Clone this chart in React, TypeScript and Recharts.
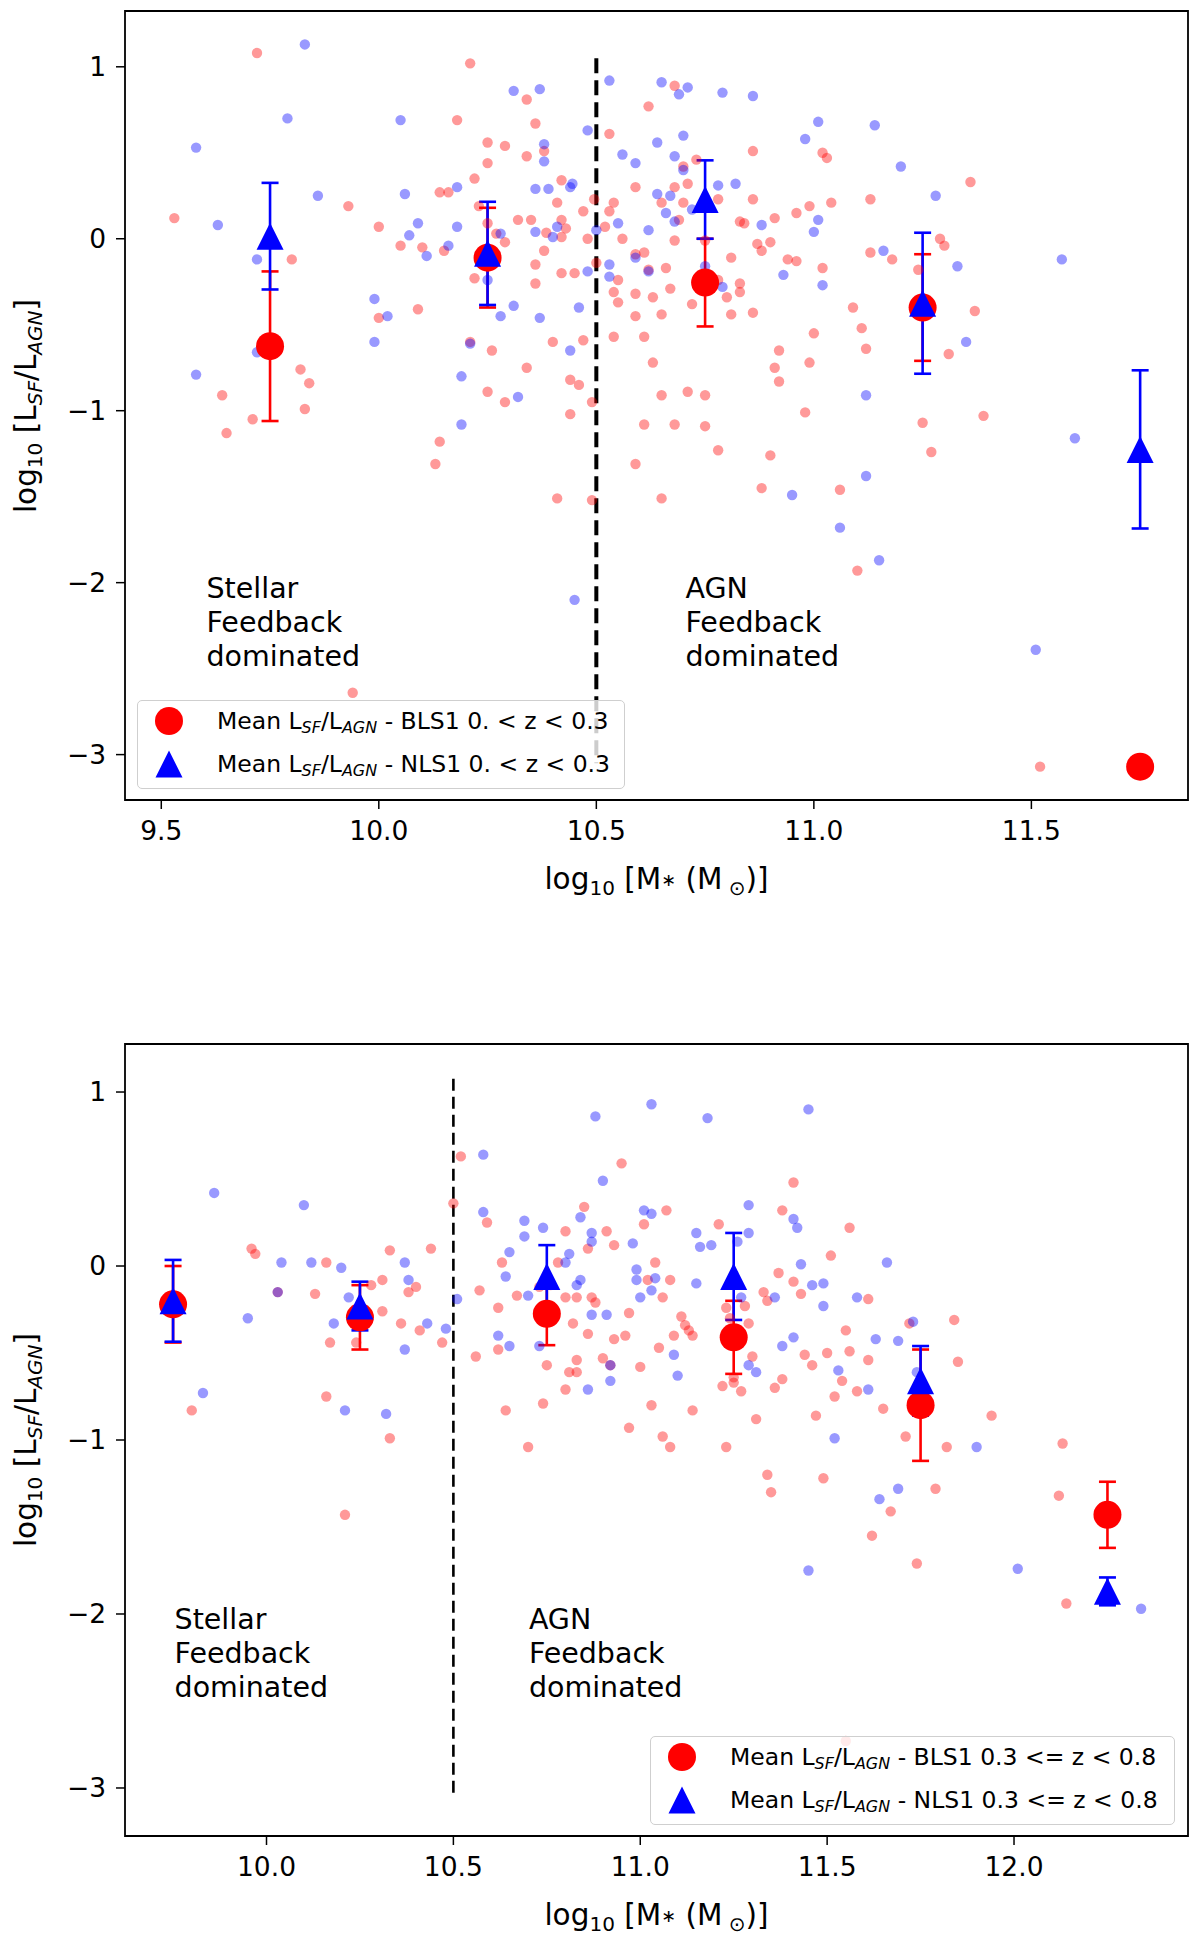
import React from 'react';
import {
  ComposedChart,
  Scatter,
  XAxis,
  YAxis,
  ErrorBar,
  ReferenceLine,
  ReferenceArea,
  ReferenceDot,
} from 'recharts';

const FONT = '"DejaVu Sans", "Liberation Sans", sans-serif';

// ---------------- Top panel (0 < z < 0.3) ----------------
const topXTicks = [9.5, 10.0, 10.5, 11.0, 11.5];
const topYTicks = [-3, -2, -1, 0, 1];
const topMassBins = [9.75, 10.25, 10.75, 11.25, 11.75];
const topBLS1Mean = [-0.625, -0.11, -0.255, -0.4, -3.07];
const topBLS1Err = [0.435, 0.29, 0.255, 0.31, 0];
const topNLS1Mean = [0.015, -0.085, 0.228, -0.375, -1.225];
const topNLS1Err = [0.31, 0.3, 0.228, 0.41, 0.46];

const topBLS1Points: [number, number][] = [
  [9.53, 0.12], [9.72, 1.08], [9.64, -0.91], [9.65, -1.13], [9.71, -1.05], [9.8, -0.12], [9.82, -0.76],
  [9.84, -0.84], [9.83, -0.99], [9.93, 0.19], [9.94, -2.64], [10.0, 0.07], [10.0, -0.46], [10.05, -0.04],
  [10.09, -0.41], [10.1, -0.05], [10.13, -1.31], [10.14, -1.18], [10.14, 0.27], [10.16, 0.27], [10.15, -0.07],
  [10.18, 0.69], [10.21, -0.6], [10.21, 1.02], [10.22, 0.35], [10.23, 0.19], [10.25, 0.44], [10.25, 0.56],
  [10.22, -0.23], [10.26, -0.65], [10.25, -0.89], [10.29, 0.54], [10.29, -0.95], [10.32, 0.11], [10.34, 0.81],
  [10.34, -0.75], [10.34, 0.48], [10.35, 0.11], [10.36, 0.67], [10.36, -0.15], [10.36, -0.26], [10.38, 0.51],
  [10.38, -0.07], [10.4, -0.6], [10.41, 0.21], [10.42, 0.34], [10.42, 0.11], [10.43, 0.06], [10.42, -0.2],
  [10.41, -1.51], [10.44, -0.82], [10.44, -1.02], [10.46, -0.85], [10.45, -0.2], [10.47, -0.59], [10.47, 0.16],
  [10.49, -0.95], [10.495, 0.23], [10.49, -1.52], [10.5, -0.14], [10.53, 0.61], [10.53, 0.16], [10.54, 0.21],
  [10.54, -0.31], [10.55, -0.37], [10.54, -0.57], [10.56, 0.0], [10.59, 0.3], [10.59, -0.45], [10.59, -0.32],
  [10.59, -0.09], [10.59, -1.31], [10.61, -0.08], [10.61, -0.57], [10.61, -1.08], [10.62, 0.77], [10.63, -0.72],
  [10.63, -0.34], [10.65, 0.21], [10.65, -0.44], [10.65, -0.91], [10.65, -1.51], [10.66, -0.17], [10.67, -0.29],
  [10.68, -0.01], [10.68, 0.3], [10.68, 0.89], [10.68, -1.08], [10.69, 0.11], [10.7, 0.42], [10.7, 0.21],
  [10.71, 0.32], [10.71, -0.89], [10.72, -0.38], [10.73, 0.46], [10.74, -0.24], [10.75, -0.01], [10.75, -0.91],
  [10.75, -1.09], [10.78, -1.23], [10.78, 0.23], [10.78, -0.24], [10.8, -0.34], [10.81, -0.11], [10.81, -0.44],
  [10.83, 0.1], [10.84, 0.09], [10.83, -0.26], [10.83, -0.31], [10.86, 0.51], [10.86, 0.23], [10.86, -0.43],
  [10.87, -0.03], [10.88, -1.45], [10.88, -0.07], [10.9, -0.02], [10.9, -1.26], [10.91, 0.12], [10.91, -0.75],
  [10.92, -0.65], [10.92, -0.83], [10.94, -0.12], [10.96, -0.13], [10.96, 0.15], [10.98, -1.01], [10.99, -0.72],
  [10.99, 0.19], [11.0, -0.55], [11.02, -0.17], [11.02, 0.5], [11.03, 0.47], [11.04, 0.21], [11.06, -1.46],
  [11.09, -0.4], [11.1, -1.93], [11.11, -0.52], [11.12, -0.64], [11.13, 0.23], [11.13, -0.08], [11.18, -0.12],
  [11.24, -0.18], [11.25, -1.07], [11.27, -1.24], [11.29, 0.0], [11.3, -0.04], [11.31, -0.67], [11.36, 0.33],
  [11.37, -0.42], [11.39, -1.03], [11.52, -3.07], [10.25, 0.09], [10.52, 0.07], [10.48, 0.0], [10.27, 0.03],
  [10.29, -0.02], [10.385, 0.035], [10.42, 0.01], [10.55, -0.24], [10.62, -0.18],
];

const topNLS1Points: [number, number][] = [
  [9.58, 0.53], [9.58, -0.79], [9.63, 0.08], [9.72, -0.12], [9.72, -0.66], [9.79, 0.7], [9.83, 1.13],
  [9.86, 0.25], [9.99, -0.35], [9.99, -0.6], [10.02, -0.45], [10.05, 0.69], [10.06, 0.26], [10.07, 0.02],
  [10.09, 0.09], [10.11, -0.1], [10.16, -0.04], [10.18, 0.3], [10.18, 0.07], [10.19, -0.8], [10.19, -1.08],
  [10.21, -0.61], [10.28, 0.03], [10.28, -0.45], [10.31, -0.39], [10.31, 0.86], [10.32, -0.92], [10.36, 0.29],
  [10.36, 0.04], [10.37, 0.87], [10.38, 0.55], [10.38, 0.45], [10.37, -0.46], [10.39, 0.29], [10.4, 0.01],
  [10.41, 0.07], [10.44, 0.3], [10.445, 0.32], [10.44, -0.65], [10.45, -2.1], [10.46, -0.4], [10.48, -0.19],
  [10.48, 0.63], [10.5, 0.05], [10.53, -0.15], [10.53, -0.22], [10.53, 0.92], [10.55, 0.09], [10.56, 0.49],
  [10.59, -0.11], [10.59, 0.44], [10.62, -0.19], [10.62, 0.05], [10.64, 0.56], [10.64, 0.26], [10.65, 0.91],
  [10.66, 0.15], [10.67, 0.25], [10.68, 0.48], [10.69, 0.84], [10.68, 0.1], [10.7, 0.6], [10.7, 0.4],
  [10.71, 0.88], [10.72, 0.17], [10.75, -0.16], [10.78, 0.31], [10.79, -0.28], [10.79, 0.85], [10.82, 0.32],
  [10.86, 0.83], [10.88, 0.08], [10.93, -0.21], [10.95, -1.49], [10.98, 0.58], [11.0, 0.04], [11.01, 0.68],
  [11.01, 0.11], [11.02, -0.27], [11.06, -1.68], [11.12, -0.91], [11.12, -1.38], [11.14, 0.66], [11.15, -1.87],
  [11.16, -0.07], [11.2, 0.42], [11.28, 0.25], [11.33, -0.16], [11.35, -0.6], [11.51, -2.39], [11.57, -0.12],
  [11.6, -1.16], [10.25, -0.24],
];

// ---------------- Bottom panel (0.3 <= z < 0.8) ----------------
const botXTicks = [10.0, 10.5, 11.0, 11.5, 12.0];
const botYTicks = [-3, -2, -1, 0, 1];
const botMassBins = [9.75, 10.25, 10.75, 11.25, 11.75, 12.25];
const botBLS1Mean = [-0.22, -0.295, -0.275, -0.41, -0.8, -1.43];
const botBLS1Err = [0.22, 0.185, 0.18, 0.21, 0.32, 0.19];
const botNLS1Mean = [-0.2, -0.23, -0.06, -0.06, -0.66, -1.87];
const botNLS1Err = [0.235, 0.14, 0.18, 0.25, 0.2, 0.08];

const botBLS1Points: [number, number][] = [
  [9.8, -0.83], [9.96, 0.1], [9.97, 0.07], [10.03, -0.15], [10.13, -0.16], [10.16, 0.02], [10.16, -0.75],
  [10.17, -0.44], [10.21, -1.43], [10.24, -0.44], [10.28, -0.11], [10.31, -0.08], [10.31, -0.26], [10.33, 0.09],
  [10.33, -0.99], [10.36, -0.33], [10.38, -0.15], [10.4, -0.12], [10.41, -0.37], [10.44, 0.1], [10.47, -0.44],
  [10.5, 0.36], [10.52, 0.63], [10.56, -0.52], [10.57, -0.14], [10.59, 0.25], [10.62, -0.48], [10.62, -0.24],
  [10.63, 0.02], [10.64, -0.83], [10.67, -0.17], [10.7, -1.04], [10.73, -0.12], [10.74, -0.79], [10.75, -0.57],
  [10.76, -0.11], [10.78, 0.02], [10.8, 0.2], [10.8, -0.71], [10.8, -0.18], [10.81, -0.61], [10.82, -0.33],
  [10.83, -0.18], [10.83, -0.54], [10.83, -0.61], [10.85, 0.34], [10.86, -0.39], [10.86, 0.1], [10.87, -0.18],
  [10.88, -0.21], [10.9, -0.53], [10.91, 0.2], [10.92, -0.57], [10.93, -0.42], [10.93, 0.12], [10.95, 0.59],
  [10.96, -0.4], [10.97, -0.93], [10.97, -0.27], [11.0, -0.58], [11.01, 0.24], [11.02, -0.08], [11.03, -0.8],
  [11.04, 0.02], [11.05, -0.47], [11.06, -0.18], [11.06, -0.98], [11.07, 0.32], [11.08, -0.08], [11.08, -1.04],
  [11.09, -0.4], [11.11, -0.29], [11.12, -0.34], [11.13, -0.37], [11.14, -0.83], [11.14, -0.4], [11.21, 0.24],
  [11.22, -0.69], [11.23, -1.04], [11.23, -0.24], [11.24, -0.3], [11.25, -0.64], [11.25, -0.67], [11.27, -0.72],
  [11.28, -0.23], [11.29, -0.33], [11.3, -0.52], [11.31, -0.88], [11.33, -0.15], [11.34, -0.2], [11.34, -1.2],
  [11.35, -1.3], [11.36, -0.7], [11.37, -0.04], [11.38, 0.32], [11.38, -0.65], [11.41, 0.48], [11.41, -0.09],
  [11.43, -0.16], [11.44, -0.51], [11.46, -0.57], [11.47, -0.86], [11.49, -1.22], [11.5, -0.5], [11.51, 0.06],
  [11.52, -0.75], [11.54, -0.66], [11.55, -2.73], [11.55, -0.37], [11.56, 0.22], [11.56, -0.49], [11.58, -0.72],
  [11.61, -0.19], [11.61, -0.54], [11.62, -1.55], [11.65, -0.82], [11.67, -1.41], [11.71, -0.98], [11.72, -0.33],
  [11.74, -1.71], [11.79, -1.28], [11.82, -1.04], [11.84, -0.31], [11.85, -0.55], [11.94, -0.86], [12.12, -1.32],
  [12.13, -1.02], [12.14, -1.94],
];

const botNLS1Points: [number, number][] = [
  [9.83, -0.73], [9.86, 0.42], [9.95, -0.3], [10.03, -0.15], [10.04, 0.02], [10.1, 0.35], [10.12, 0.02],
  [10.18, -0.33], [10.2, -0.01], [10.21, -0.83], [10.22, -0.18], [10.32, -0.85], [10.37, 0.02], [10.37, -0.48],
  [10.38, -0.08], [10.43, -0.33], [10.48, -0.36], [10.51, -0.19], [10.58, 0.64], [10.58, 0.31], [10.62, -0.4],
  [10.64, -0.06], [10.65, -0.46], [10.65, 0.08], [10.69, 0.17], [10.69, 0.26], [10.7, -0.17], [10.73, -0.46],
  [10.74, 0.22], [10.8, 0.02], [10.81, 0.07], [10.83, -0.11], [10.84, -0.08], [10.84, 0.28], [10.86, -0.71],
  [10.87, 0.19], [10.87, -0.28], [10.87, 0.14], [10.88, 0.86], [10.9, 0.49], [10.91, -0.28], [10.92, -0.57],
  [10.92, -0.66], [10.98, 0.13], [10.99, -0.02], [10.99, -0.08], [11.0, -0.18], [11.01, 0.32], [11.03, 0.3],
  [11.03, -0.14], [11.03, 0.93], [11.04, -0.07], [11.09, -0.51], [11.1, -0.63], [11.15, -0.1], [11.15, 0.19],
  [11.16, 0.11], [11.18, 0.85], [11.19, 0.12], [11.26, 0.14], [11.27, -0.18], [11.29, -0.57], [11.29, 0.19],
  [11.29, 0.35], [11.31, -0.61], [11.36, -0.18], [11.38, -0.46], [11.41, 0.27], [11.41, -0.41], [11.42, 0.22],
  [11.43, 0.01], [11.45, 0.9], [11.45, -1.75], [11.46, -0.11], [11.49, -0.23], [11.49, -0.1], [11.52, -0.99],
  [11.53, -0.6], [11.58, -0.18], [11.61, -0.71], [11.63, -0.42], [11.64, -1.34], [11.66, 0.02], [11.69, -1.28],
  [11.69, -0.43], [11.73, -0.32], [11.74, -0.61], [11.9, -1.04], [12.01, -1.74], [12.34, -1.97],
];

const topLegendLabels = ['BLS1 0. < z < 0.3', 'NLS1 0. < z < 0.3'];
const botLegendLabels = ['BLS1 0.3 <= z < 0.8', 'NLS1 0.3 <= z < 0.8'];
const annotationStellar = ['Stellar', 'Feedback', 'dominated'];
const annotationAGN = ['AGN', 'Feedback', 'dominated'];

// ---------------- helpers ----------------
const toPts = (arr: [number, number][]) => arr.map(([x, y]) => ({ x, y }));
const toMeans = (xs: number[], ys: number[], es: number[]) =>
  xs.map((x, i) => ({ x, y: ys[i], err: es[i] }));

const dotShape = (color: string) => (p: any) =>
  p.cx == null ? null : <circle cx={p.cx} cy={p.cy} r={5.2} fill={color} fillOpacity={0.4} />;

const meanCircle = (p: any) =>
  p.cx == null ? null : <circle cx={p.cx} cy={p.cy} r={14} fill="#ff0000" />;

const meanTriangle = (p: any) => {
  if (p.cx == null) return null;
  const h = 13.5;
  return (
    <path
      d={`M${p.cx},${p.cy - h} L${p.cx + h},${p.cy + h} L${p.cx - h},${p.cy + h} Z`}
      fill="#0000ff"
    />
  );
};

const textBlock = (lines: string[]) => (p: any) =>
  p.cx == null ? null : (
    <g>
      {lines.map((l, i) => (
        <text
          key={i}
          x={p.cx}
          y={p.cy + i * 34}
          dy="0.36em"
          fontFamily={FONT}
          fontSize={28.5}
          fill="#000"
          textAnchor="start"
        >
          {l}
        </text>
      ))}
    </g>
  );

const minusFmt = (v: number) => (v < 0 ? '\u2212' + Math.abs(v) : String(v));

const subStyle: React.CSSProperties = { fontSize: '0.68em', verticalAlign: '-0.28em', lineHeight: 0 };

function LegendBox({ left, top, width, labels }: { left: number; top: number; width: number; labels: string[] }) {
  const row = (marker: React.ReactNode, label: string, y: number) => (
    <div style={{ position: 'absolute', left: 0, top: y - 22, height: 44, width: '100%' }}>
      <svg width={64} height={44} style={{ position: 'absolute', left: 0, top: 0 }}>
        {marker}
      </svg>
      <div
        style={{
          position: 'absolute',
          left: 79,
          top: 0,
          height: 44,
          lineHeight: '44px',
          fontSize: 23.5,
          fontFamily: FONT,
          whiteSpace: 'nowrap',
          color: '#000',
        }}
      >
        Mean L<span style={{ ...subStyle, fontStyle: 'italic' }}>SF</span>/L
        <span style={{ ...subStyle, fontStyle: 'italic' }}>AGN</span> - {label}
      </div>
    </div>
  );
  return (
    <div
      style={{
        position: 'absolute',
        left,
        top,
        width,
        height: 89,
        boxSizing: 'border-box',
        border: '1.5px solid #cfcfcf',
        borderRadius: 5,
        background: 'rgba(255,255,255,0.8)',
      }}
    >
      {row(<circle cx={31} cy={22} r={14} fill="#ff0000" />, labels[0], 20)}
      {row(<path d="M31,8.5 L44.5,35.5 L17.5,35.5 Z" fill="#0000ff" />, labels[1], 63)}
    </div>
  );
}

function YTitle({ cx, cy }: { cx: number; cy: number }) {
  return (
    <div
      style={{
        position: 'absolute',
        left: cx,
        top: cy,
        transform: 'translate(-50%, -50%) rotate(-90deg)',
        fontFamily: FONT,
        fontSize: 29.5,
        whiteSpace: 'nowrap',
        color: '#000',
      }}
    >
      log<span style={subStyle}>10</span> [L<span style={{ ...subStyle, fontStyle: 'italic' }}>SF</span>/L
      <span style={{ ...subStyle, fontStyle: 'italic' }}>AGN</span>]
    </div>
  );
}

function XTitle({ cx, cy }: { cx: number; cy: number }) {
  return (
    <div
      style={{
        position: 'absolute',
        left: cx,
        top: cy,
        transform: 'translate(-50%, -50%)',
        fontFamily: FONT,
        fontSize: 29.5,
        whiteSpace: 'nowrap',
        color: '#000',
      }}
    >
      log<span style={subStyle}>10</span> [M<span style={{ fontSize: '0.6em', verticalAlign: '0.15em' }}>∗</span> (M
      <span style={subStyle}> ⊙</span>)]
    </div>
  );
}

type PanelProps = {
  top: number;
  height: number;
  margin: { top: number; right: number; bottom: number; left: number };
  xDomain: [number, number];
  yDomain: [number, number];
  xTicks: number[];
  yTicks: number[];
  bls: [number, number][];
  nls: [number, number][];
  bins: number[];
  blsMean: number[];
  blsErr: number[];
  nlsMean: number[];
  nlsErr: number[];
  lineY: [number, number];
  lineWidth: number;
  dash: string;
  stellarPos: [number, number];
  agnPos: [number, number];
};

function Panel(p: PanelProps) {
  const tickStyle = { fontSize: 26.5, fill: '#000', fontFamily: FONT };
  return (
    <div style={{ position: 'absolute', left: 0, top: p.top, width: 1200, height: p.height }}>
      <ComposedChart width={1200} height={p.height} margin={p.margin}>
        <XAxis
          type="number"
          dataKey="x"
          domain={p.xDomain}
          allowDataOverflow
          ticks={p.xTicks}
          interval={0}
          tickFormatter={(v: number) => v.toFixed(1)}
          tick={tickStyle}
          tickSize={9}
          tickMargin={12}
          stroke="#000"
          tickLine={{ stroke: '#000', strokeWidth: 1.5 }}
          axisLine={false}
          height={60}
        />
        <YAxis
          type="number"
          dataKey="y"
          domain={p.yDomain}
          allowDataOverflow
          ticks={p.yTicks}
          interval={0}
          tickFormatter={minusFmt}
          tick={tickStyle}
          tickSize={9}
          tickMargin={10}
          stroke="#000"
          tickLine={{ stroke: '#000', strokeWidth: 1.5 }}
          axisLine={false}
          width={60}
        />
        <ReferenceArea
          x1={p.xDomain[0]}
          x2={p.xDomain[1]}
          y1={p.yDomain[0]}
          y2={p.yDomain[1]}
          fill="none"
          fillOpacity={0}
          stroke="#000"
          strokeWidth={1.8}
          ifOverflow="visible"
        />
        <Scatter data={toPts(p.bls)} shape={dotShape('#ff0000')} isAnimationActive={false} />
        <Scatter data={toPts(p.nls)} shape={dotShape('#0000ff')} isAnimationActive={false} />
        <ReferenceLine
          segment={[
            { x: 10.5, y: p.lineY[0] },
            { x: 10.5, y: p.lineY[1] },
          ]}
          stroke="#000"
          strokeWidth={p.lineWidth}
          strokeDasharray={p.dash}
          ifOverflow="visible"
        />
        <Scatter data={toMeans(p.bins, p.blsMean, p.blsErr)} shape={meanCircle} isAnimationActive={false}>
          <ErrorBar dataKey="err" direction="y" width={8.5} stroke="#ff0000" strokeWidth={2.6} isAnimationActive={false} />
        </Scatter>
        <Scatter data={toMeans(p.bins, p.nlsMean, p.nlsErr)} shape={meanTriangle} isAnimationActive={false}>
          <ErrorBar dataKey="err" direction="y" width={8.5} stroke="#0000ff" strokeWidth={2.6} isAnimationActive={false} />
        </Scatter>
        <ReferenceDot
          x={p.stellarPos[0]}
          y={p.stellarPos[1]}
          r={0}
          ifOverflow="visible"
          shape={textBlock(annotationStellar)}
        />
        <ReferenceDot
          x={p.agnPos[0]}
          y={p.agnPos[1]}
          r={0}
          ifOverflow="visible"
          shape={textBlock(annotationAGN)}
        />
      </ComposedChart>
    </div>
  );
}

export default function App() {
  return (
    <div
      style={{
        position: 'absolute',
        left: 0,
        top: 0,
        width: 1200,
        height: 1934,
        background: '#fff',
        overflow: 'hidden',
      }}
    >
      <Panel
        top={0}
        height={920}
        margin={{ top: 11, right: 12, bottom: 60, left: 65 }}
        xDomain={[9.4166, 11.86]}
        yDomain={[-3.264, 1.3245]}
        xTicks={topXTicks}
        yTicks={topYTicks}
        bls={topBLS1Points}
        nls={topNLS1Points}
        bins={topMassBins}
        blsMean={topBLS1Mean}
        blsErr={topBLS1Err}
        nlsMean={topNLS1Mean}
        nlsErr={topNLS1Err}
        lineY={[1.05, -3.05]}
        lineWidth={4}
        dash="15 7"
        stellarPos={[9.604, -2.03]}
        agnPos={[10.705, -2.03]}
      />
      <LegendBox left={137} top={700} width={488} labels={topLegendLabels} />
      <YTitle cx={26} cy={405.5} />
      <XTitle cx={656.5} cy={879} />

      <Panel
        top={930}
        height={1004}
        margin={{ top: 114, right: 12, bottom: 38, left: 65 }}
        xDomain={[9.6214, 12.4655]}
        yDomain={[-3.276, 1.276]}
        xTicks={botXTicks}
        yTicks={botYTicks}
        bls={botBLS1Points}
        nls={botNLS1Points}
        bins={botMassBins}
        blsMean={botBLS1Mean}
        blsErr={botBLS1Err}
        nlsMean={botNLS1Mean}
        nlsErr={botNLS1Err}
        lineY={[1.076, -3.06]}
        lineWidth={2.6}
        dash="12 6"
        stellarPos={[9.754, -2.03]}
        agnPos={[10.702, -2.03]}
      />
      <LegendBox left={650} top={1736} width={525} labels={botLegendLabels} />
      <YTitle cx={26} cy={1440} />
      <XTitle cx={656.5} cy={1915} />
    </div>
  );
}
